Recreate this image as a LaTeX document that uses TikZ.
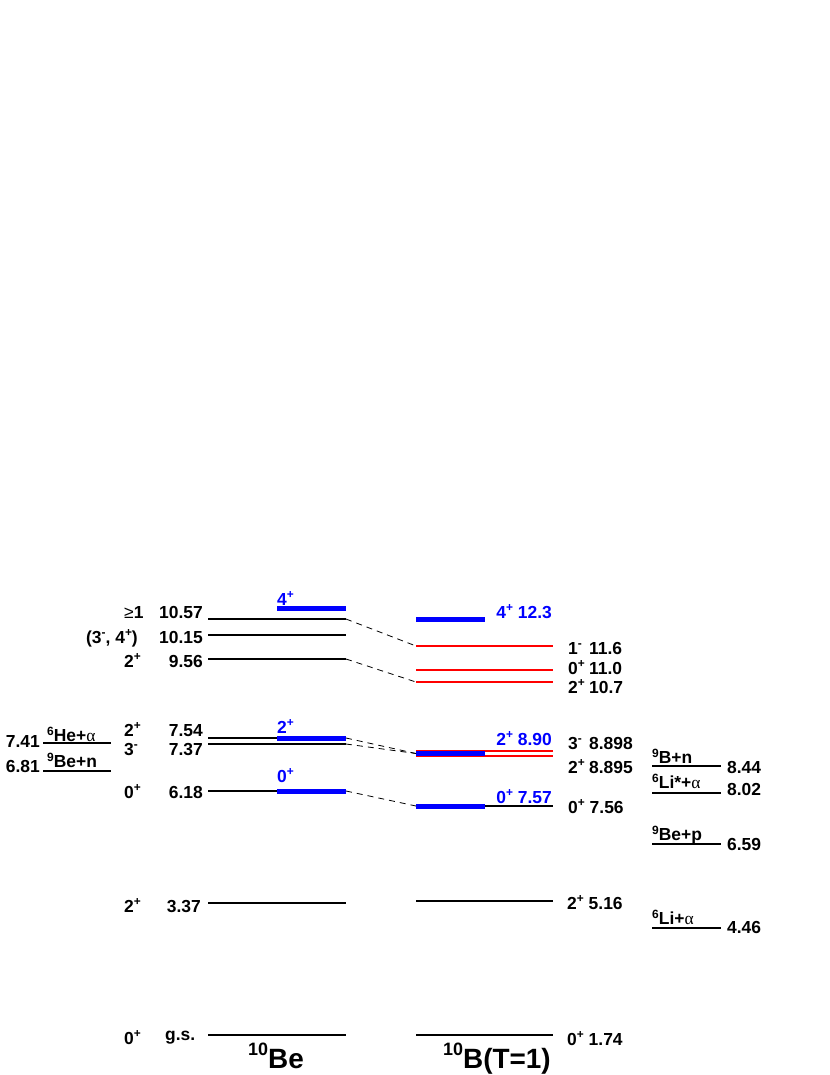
\documentclass[tikz,border=0pt]{standalone}
\usepackage{fontspec}
\setmainfont{Liberation Sans}
\newfontfamily\alphafont{Liberation Serif}
\newcommand\up[1]{\raisebox{6.5bp}{\fontsize{12}{12}\selectfont #1}}
\newcommand\iso[1]{\raisebox{6bp}{\fontsize{12}{12}\selectfont #1}}
\newcommand\alp{{\alphafont\mdseries α}}
\newcommand\spn[1]{\makebox[21bp][l]{#1}}
\begin{document}
\begin{tikzpicture}[x=1bp,y=-1bp,
  lev/.style={line width=1.7bp},
  blev/.style={line width=5bp, blue},
  rlev/.style={line width=1.8bp, red},
  dsh/.style={dashed, dash pattern=on 6bp off 5bp, line width=0.8bp},
  lab/.style={inner sep=0pt, font=\fontsize{17.5}{20}\selectfont\bfseries},
  blab/.style={lab, text=blue},
  ttl/.style={inner sep=0pt, font=\fontsize{28}{30}\selectfont\bfseries}]
\useasboundingbox (0,0) rectangle (830,1075);

% ---------- 10Be levels ----------
\coordinate (be1057l) at (208,619); \coordinate (be1057r) at (346,619);
\coordinate (be1015l) at (208,635); \coordinate (be1015r) at (346,635);
\coordinate (be956l)  at (208,659); \coordinate (be956r)  at (346,659);
\coordinate (be754l)  at (208,738); \coordinate (be754r)  at (346,738);
\coordinate (be737l)  at (208,744); \coordinate (be737r)  at (346,744);
\coordinate (be618l)  at (208,791); \coordinate (be618r)  at (346,791);
\coordinate (be337l)  at (208,903); \coordinate (be337r)  at (346,903);
\coordinate (begsl)   at (208,1035); \coordinate (begsr)  at (346,1035);
\foreach \n in {be1057,be1015,be956,be754,be737,be618,be337,begs}
  \draw[lev] (\n l) -- (\n r);
\coordinate (bebl4l) at (277,608); \coordinate (bebl4r) at (346,608);
\coordinate (bebl2l) at (277,738); \coordinate (bebl2r) at (346,738);
\coordinate (bebl0l) at (277,791); \coordinate (bebl0r) at (346,791);
\foreach \n in {bebl4,bebl2,bebl0}
  \draw[blev] (\n l) -- (\n r);

% ---------- 10B levels ----------
\coordinate (b123l) at (416,619); \coordinate (b123r) at (485,619);
\coordinate (b116l) at (416,646); \coordinate (b116r) at (553,646);
\coordinate (b110l) at (416,670); \coordinate (b110r) at (553,670);
\coordinate (b107l) at (416,682); \coordinate (b107r) at (553,682);
\coordinate (b8898l) at (416,751); \coordinate (b8898r) at (553,751);
\coordinate (b8895l) at (416,756); \coordinate (b8895r) at (553,756);
\coordinate (b890l) at (416,753.5); \coordinate (b890r) at (485,753.5);
\coordinate (b756l) at (416,806); \coordinate (b756r) at (553,806);
\coordinate (b757l) at (416,806); \coordinate (b757r) at (485,806);
\coordinate (b516l) at (416,901); \coordinate (b516r) at (553,901);
\coordinate (b174l) at (416,1035); \coordinate (b174r) at (553,1035);
\foreach \n in {b116,b110,b107,b8898,b8895}
  \draw[rlev] (\n l) -- (\n r);
\foreach \n in {b756,b516,b174}
  \draw[lev] (\n l) -- (\n r);
\foreach \n in {b123,b890,b757}
  \draw[blev] (\n l) -- (\n r);

% ---------- thresholds ----------
\coordinate (hel) at (43,743); \coordinate (her) at (111,743);
\coordinate (ben) at (43,771); \coordinate (benr) at (111,771);
\coordinate (bnl) at (652,766); \coordinate (bnr) at (721,766);
\coordinate (lisl) at (652,793); \coordinate (lisr) at (721,793);
\coordinate (bepl) at (652,844); \coordinate (bepr) at (721,844);
\coordinate (lial) at (652,928); \coordinate (liar) at (721,928);
\draw[lev] (hel) -- (her);
\draw[lev] (ben) -- (benr);
\draw[lev] (bnl) -- (bnr);
\draw[lev] (lisl) -- (lisr);
\draw[lev] (bepl) -- (bepr);
\draw[lev] (lial) -- (liar);

% ---------- dashed correspondences ----------
\draw[dsh] (be1057r) -- (b116l);
\draw[dsh] (be956r) -- (b107l);
\draw[dsh] (be754r) -- (b890l);
\draw[dsh] (be737r) -- (b890l);
\draw[dsh] (be618r) -- (b757l);

% ---------- 10Be labels ----------
\node[lab, anchor=base west] (s1057) at (124,618) {{\mdseries ≥}1};
\node[lab, anchor=base east] (e1057) at (203,618) {10.57};
\node[lab, anchor=base east] (s1015) at (138,643) {(3\up{-}, 4\up{+})};
\node[lab, anchor=base east] (e1015) at (203,643) {10.15};
\node[lab, anchor=base west] (s956) at (124,667) {2\up{+}};
\node[lab, anchor=base east] (e956) at (203,667) {9.56};
\node[lab, anchor=base west] (s754) at (124,736) {2\up{+}};
\node[lab, anchor=base east] (e754) at (203,736) {7.54};
\node[lab, anchor=base west] (s737) at (124,755) {3\up{-}};
\node[lab, anchor=base east] (e737) at (203,755) {7.37};
\node[lab, anchor=base west] (s618) at (124,798) {0\up{+}};
\node[lab, anchor=base east] (e618) at (203,798) {6.18};
\node[lab, anchor=base west] (s337) at (124,912) {2\up{+}};
\node[lab, anchor=base east] (e337) at (201,912) {3.37};
\node[lab, anchor=base west] (sgs) at (124,1044) {0\up{+}};
\node[lab, anchor=base west] (egs) at (165,1040) {g.s.};
\node[blab, anchor=base west] (bs4) at (277,605) {4\up{+}};
\node[blab, anchor=base west] (bs2) at (277,733) {2\up{+}};
\node[blab, anchor=base west] (bs0) at (277,782) {0\up{+}};

% ---------- 10B labels ----------
\node[blab, anchor=base east] (l123) at (552,618) {4\up{+} 12.3};
\node[lab, anchor=base west] (l116) at (568,654) {\spn{1\up{-}}11.6};
\node[lab, anchor=base west] (l110) at (568,674) {\spn{0\up{+}}11.0};
\node[lab, anchor=base west] (l107) at (568,693) {\spn{2\up{+}}10.7};
\node[blab, anchor=base east] (l890) at (552,745) {2\up{+} 8.90};
\node[lab, anchor=base west] (l8898) at (568,749) {\spn{3\up{-}}8.898};
\node[lab, anchor=base west] (l8895) at (568,773) {\spn{2\up{+}}8.895};
\node[blab, anchor=base east] (l757) at (552,803) {0\up{+} 7.57};
\node[lab, anchor=base west] (l756) at (568,813) {0\up{+} 7.56};
\node[lab, anchor=base west] (l516) at (567,909) {2\up{+} 5.16};
\node[lab, anchor=base west] (l174) at (567,1045) {0\up{+} 1.74};

% ---------- threshold labels ----------
\node[lab, anchor=base east] (t741) at (40,747) {7.41};
\node[lab, anchor=base west] (thea) at (47,741) {\iso{6}He+\alp};
\node[lab, anchor=base east] (t681) at (40,772) {6.81};
\node[lab, anchor=base west] (tben) at (47,767) {\iso{9}Be+n};
\node[lab, anchor=base west] (tbn) at (652,763) {\iso{9}B+n};
\node[lab, anchor=base west] (t844) at (727,773) {8.44};
\node[lab, anchor=base west] (tlis) at (652,788) {\iso{6}Li*+\alp};
\node[lab, anchor=base west] (t802) at (727,795) {8.02};
\node[lab, anchor=base west] (tbep) at (652,840) {\iso{9}Be+p};
\node[lab, anchor=base west] (t659) at (727,850) {6.59};
\node[lab, anchor=base west] (tlia) at (652,924) {\iso{6}Li+\alp};
\node[lab, anchor=base west] (t446) at (727,933) {4.46};

% ---------- titles ----------
\node[ttl, anchor=base west] (tbe) at (248,1068) {\raisebox{13bp}{\fontsize{18}{18}\selectfont 10}Be};
\node[ttl, anchor=base west] (tb) at (443,1068) {\raisebox{13bp}{\fontsize{18}{18}\selectfont 10}B(T=1)};
\end{tikzpicture}
\end{document}
